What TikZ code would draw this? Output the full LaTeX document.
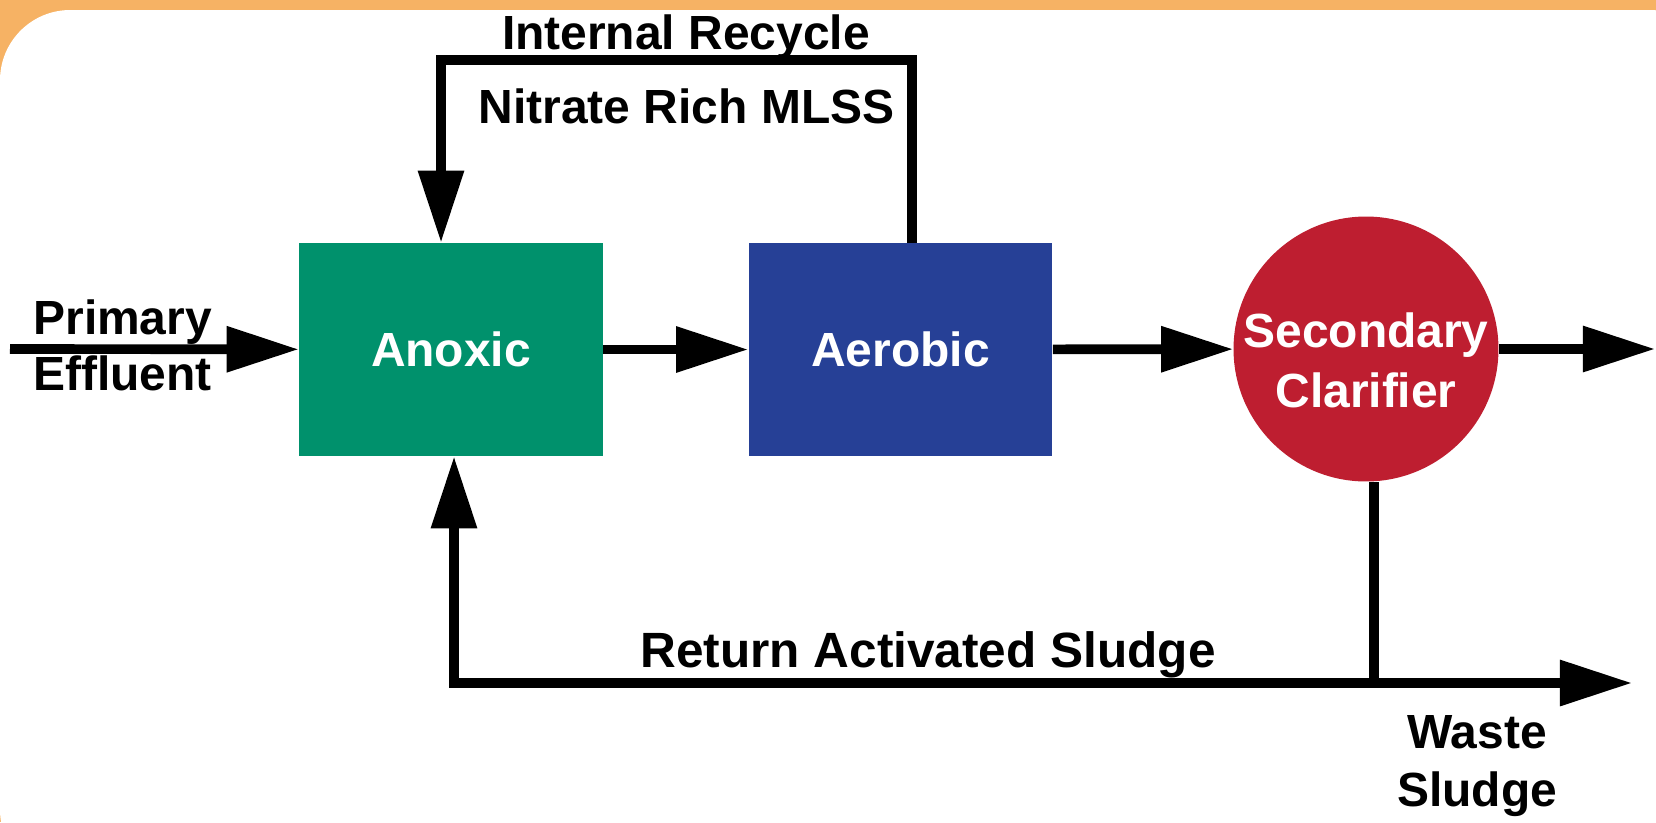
\documentclass[tikz,border=0pt]{standalone}
\usepackage{fontspec}
\setmainfont{Liberation Sans}
\usetikzlibrary{arrows.meta}
\definecolor{anoxicgreen}{RGB}{0,145,108}
\definecolor{aerobicblue}{RGB}{38,64,150}
\definecolor{clarred}{RGB}{190,30,48}
\definecolor{bandorange}{RGB}{246,178,100}
\newcommand\labelfont{\fontsize{27.3}{33}\selectfont\bfseries}
\tikzset{tank box/.style={minimum width=6.08cm, minimum height=4.26cm,
           inner sep=0pt, text=white},
         clarifier/.style={circle, fill=clarred, minimum size=5.3cm,
           inner sep=0pt},
         clarifier text/.style={inner sep=0pt, text=white, align=center,
           font=\fontsize{27.3}{34.2}\selectfont\bfseries},
         pipe/.style={line width=5.5pt},
         flow/.style={pipe, -{Triangle[length=41pt,width=25pt]}},
         flow label/.style={inner sep=0pt, anchor=base}
}

\begin{document}
\begin{tikzpicture}[x=0.02cm, y=-0.02cm, font=\labelfont]
\useasboundingbox (0,0) rectangle (1656,822);
\fill[bandorange] (0,0) rectangle (1656,822);
\fill[white, rounded corners=40] (0,10) rectangle (1720,880);

\node[tank box, fill=anoxicgreen] (anoxic) at (451,349.5) {Anoxic};
\node[tank box, fill=aerobicblue] (aerobic) at (900.5,349.5) {Aerobic};
\node[clarifier] (clar) at (1366,349) {};
\node[clarifier text] (clarname) at (1366,360.5) {Secondary\\Clarifier};

\coordinate (feed) at (10,349);
\coordinate (outlet) at (1655,349);
\coordinate (irL) at (441,60);
\coordinate (irR) at (912,60);
\coordinate (split) at (1374,683);
\coordinate (ras) at (454,683);
\coordinate (waste) at (1632,683);

\draw[flow] (feed) -- (anoxic);
\draw[flow] (anoxic) -- (aerobic);
\draw[flow] (aerobic) -- (clar);
\draw[flow] (clar) -- (outlet);
\draw[flow] (aerobic.north -| irR) -- (irR) -- (irL) -- (anoxic.north -| irL);
\draw[pipe] (clar.south -| split) -- (split);
\draw[flow] (split) -- (ras) -- (anoxic.south -| ras);
\draw[flow] (split) -- (waste);

\node[flow label] (irlabel) at (686,49) {Internal Recycle};
\node[flow label] (nitrate) at (686.5,123) {Nitrate Rich MLSS};
\node[flow label, anchor=base west] (primary) at (33,334) {Primary};
\node[flow label, anchor=base west] (effluent) at (33,390) {Effluent};
\node[flow label, font=\fontsize{28.2}{33}\selectfont\bfseries] (raslabel)
  at (928,667) {Return Activated Sludge};
\node[flow label] (wastelabel) at (1477,748) {Waste};
\node[flow label] (sludgelabel) at (1477,806) {Sludge};
\end{tikzpicture}
\end{document}
